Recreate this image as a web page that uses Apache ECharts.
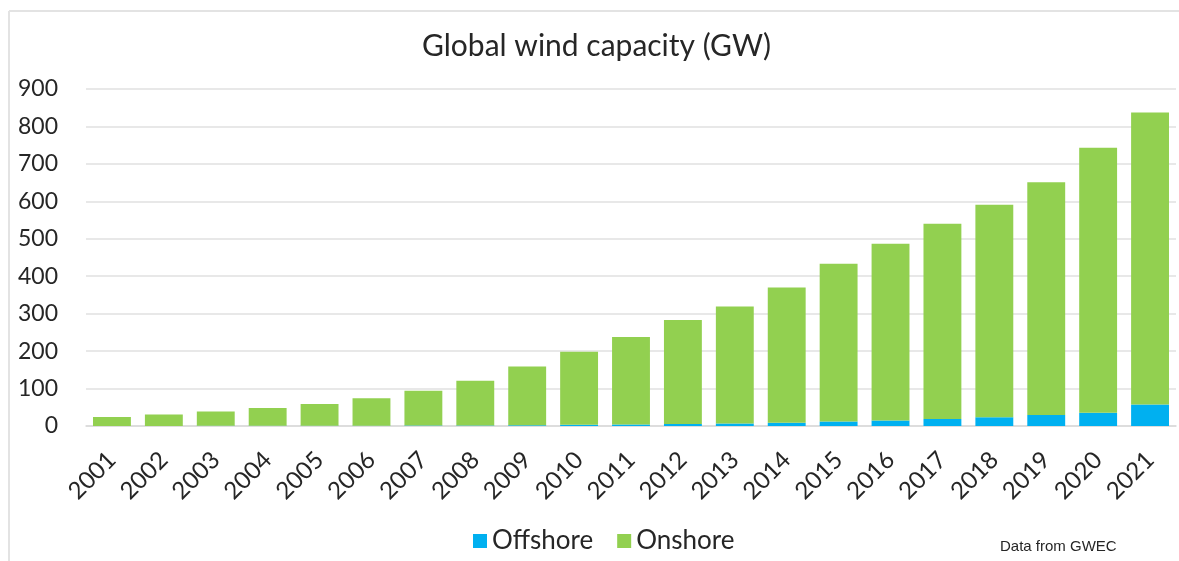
<!DOCTYPE html>
<html>
<head>
<meta charset="utf-8">
<script src="https://cdn.jsdelivr.net/npm/echarts@6/dist/echarts.min.js"></script>
<style>
  html, body { margin: 0; padding: 0; background: #fff; }
  #chart { width: 1179px; height: 561px; }
</style>
</head>
<body>
<div id="chart"></div>
<script>
// years on the x axis
var years = ['2001', '2002', '2003', '2004', '2005', '2006', '2007', '2008', '2009', '2010', '2011',
  '2012', '2013', '2014', '2015', '2016', '2017', '2018', '2019', '2020', '2021'];
// offshore capacity, GW
var offshore = [0.1, 0.3, 0.5, 0.6, 0.7, 0.9, 1.1, 1.5, 2.1, 3.1, 4.1,
  5.4, 7.0, 8.8, 12.1, 14.4, 18.8, 23.1, 29.1, 35.3, 57.2];
// onshore capacity, GW
var onshore = [23.9, 30.7, 38.5, 47.4, 58.3, 73.1, 92.9, 119.5, 156.9, 194.9, 233.9,
  277.6, 312.0, 361.2, 420.9, 472.6, 521.2, 567.9, 621.9, 707.7, 779.8];

var chart = echarts.init(document.getElementById('chart'));
chart.setOption({
  backgroundColor: '#fff',
  animation: false,
  textStyle: { fontFamily: 'Lato' },
  title: {
    text: 'Global wind capacity (GW)',
    left: 422,
    top: 31,
    padding: 0,
    textStyle: { fontFamily: 'Lato', fontSize: 30, fontWeight: 'normal', color: '#262626' }
  },
  legend: {
    top: 523,
    left: 468,
    itemWidth: 14,
    itemHeight: 14,
    itemGap: 24,
    icon: 'rect',
    textStyle: { fontFamily: 'Lato', fontSize: 26, color: '#262626' },
    data: ['Offshore', 'Onshore']
  },
  graphic: [
    { type: 'line', shape: { x1: 9, y1: 11, x2: 1179, y2: 11 }, style: { stroke: '#e3e3e3', lineWidth: 2 } },
    { type: 'line', shape: { x1: 9, y1: 11, x2: 9, y2: 561 }, style: { stroke: '#e3e3e3', lineWidth: 2 } },
    {
      type: 'text', left: 1000, top: 539,
      style: { text: 'Data from GWEC', font: '15px "Liberation Sans"', fill: '#262626' }
    }
  ],
  grid: { left: 86, right: 3, top: 89, bottom: 135 },
  xAxis: {
    type: 'category',
    data: years,
    axisTick: { show: false },
    axisLine: { lineStyle: { color: '#d9d9d9', width: 1.5 } },
    axisLabel: { rotate: 45, margin: 30, fontSize: 24, color: '#262626', interval: 0 }
  },
  yAxis: {
    type: 'value',
    min: 0,
    max: 900,
    interval: 100,
    axisLine: { show: false },
    axisTick: { show: false },
    splitLine: { lineStyle: { color: '#e0e0e0', width: 1.5 } },
    axisLabel: { margin: 28, fontSize: 23, color: '#262626' }
  },
  series: [
    {
      name: 'Offshore',
      type: 'bar',
      stack: 'total',
      barCategoryGap: '27%',
      itemStyle: { color: '#00B0F0' },
      data: offshore
    },
    {
      name: 'Onshore',
      type: 'bar',
      stack: 'total',
      barCategoryGap: '27%',
      itemStyle: { color: '#92D050' },
      data: onshore
    }
  ]
});
</script>
</body>
</html>
